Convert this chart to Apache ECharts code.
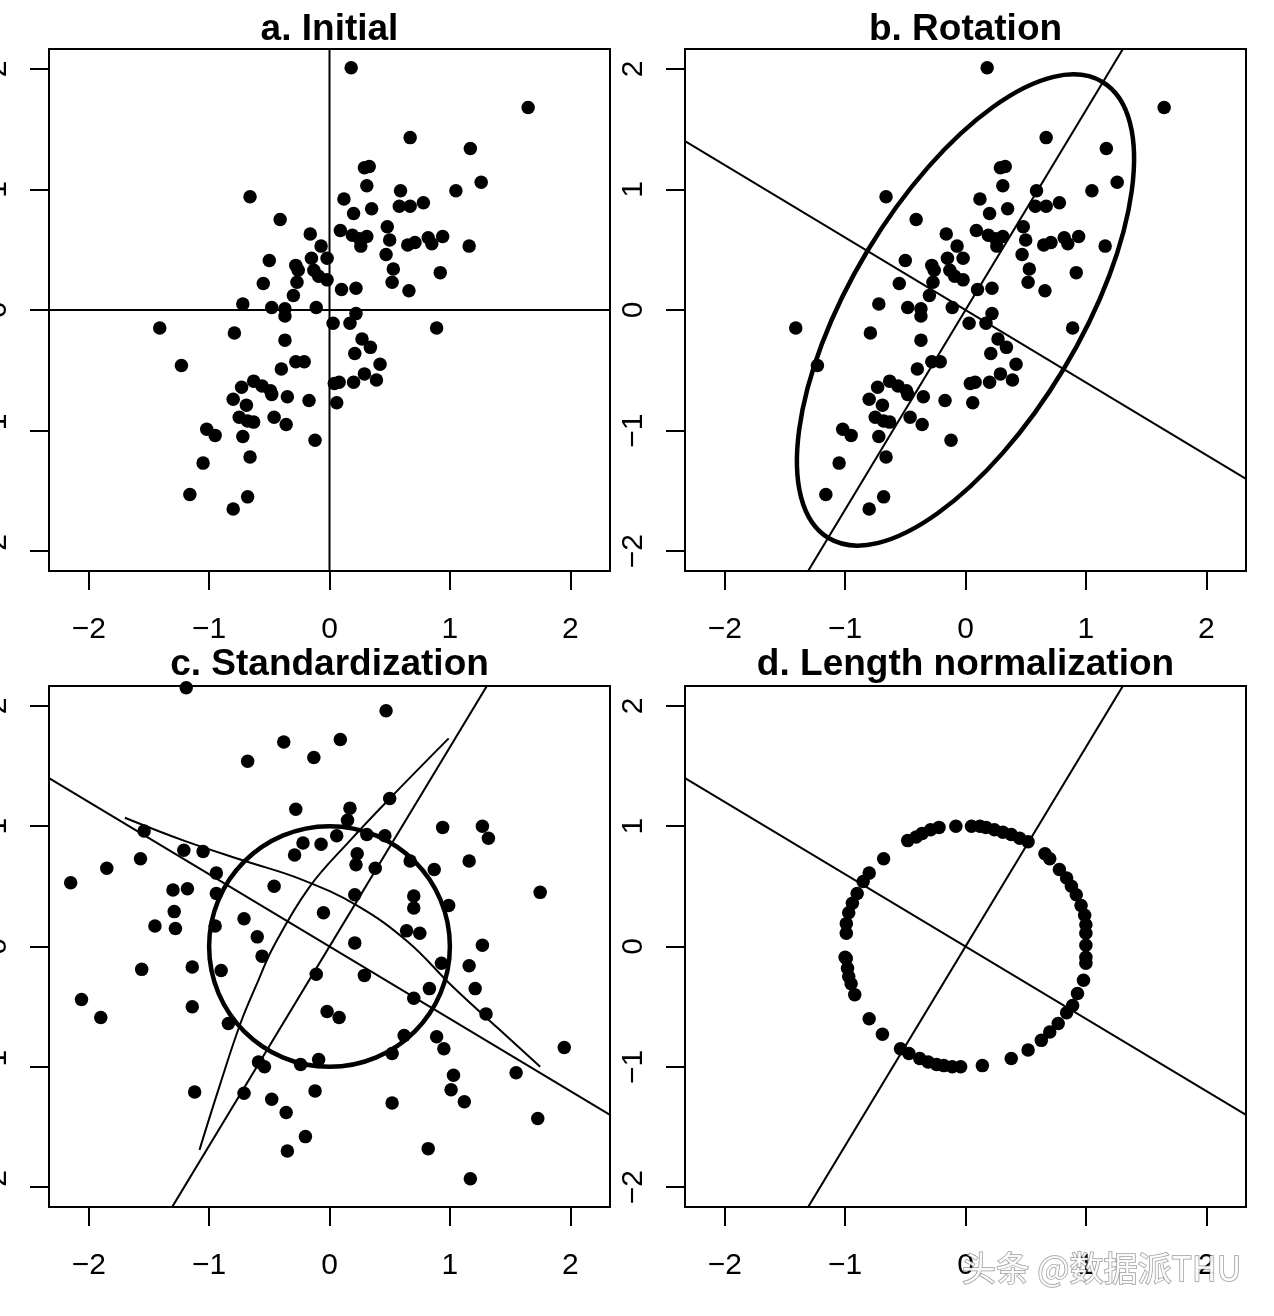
<!DOCTYPE html>
<html>
<head>
<meta charset="utf-8">
<script src="https://cdn.jsdelivr.net/npm/echarts@6/dist/echarts.min.js"></script>
<style>
  html, body { margin: 0; padding: 0; background: #fff; }
  #chart { width: 1274px; height: 1316px; }
</style>
</head>
<body>
<div id="chart"></div>
<script>
// panel titles and tick values
var panelTitles = ['a. Initial', 'b. Rotation', 'c. Standardization', 'd. Length normalization']
var tickValues = [-2, -1, 0, 1, 2]

// raw data (panels a and b)
var initialPoints = [
  [-0.66, 0.94], [-0.41, 0.75], [-0.16, 0.63], [-0.07, 0.53], [-0.50, 0.41], [-0.15, 0.43],
  [-0.02, 0.43], [-0.28, 0.37], [-0.26, 0.33], [-0.13, 0.33], [-0.09, 0.28], [-0.02, 0.25],
  [-0.27, 0.23], [-0.55, 0.22], [-0.30, 0.12], [-0.72, 0.05], [-0.48, 0.02], [-0.37, 0.01],
  [-0.11, 0.02], [-0.37, -0.05], [0.18, 2.01], [1.65, 1.68], [0.67, 1.43], [1.17, 1.34],
  [0.29, 1.18], [0.33, 1.19], [0.31, 1.03], [1.26, 1.06], [0.59, 0.99], [1.05, 0.99],
  [0.12, 0.92], [0.20, 0.80], [0.35, 0.84], [0.58, 0.86], [0.67, 0.86], [0.78, 0.89],
  [0.09, 0.66], [0.48, 0.69], [0.19, 0.62], [0.25, 0.59], [0.31, 0.61], [0.26, 0.53],
  [0.50, 0.58], [0.47, 0.46], [0.65, 0.54], [0.71, 0.56], [0.82, 0.60], [0.85, 0.55],
  [0.94, 0.61], [1.16, 0.53], [0.53, 0.34], [0.92, 0.31], [0.52, 0.23], [0.10, 0.17],
  [0.22, 0.18], [0.66, 0.16], [0.22, -0.03], [0.03, -0.11], [-1.41, -0.15], [-0.79, -0.19],
  [-0.37, -0.25], [-0.28, -0.43], [-0.21, -0.43], [-1.23, -0.46], [-0.40, -0.49], [0.04, -0.61],
  [0.06, -0.77], [-0.73, -0.64], [-0.63, -0.59], [-0.56, -0.63], [-0.49, -0.67], [-0.48, -0.70],
  [-0.35, -0.72], [-0.17, -0.75], [-0.80, -0.74], [-0.69, -0.79], [-0.46, -0.89], [-0.36, -0.95],
  [-0.75, -0.89], [-0.68, -0.92], [-0.63, -0.93], [-1.02, -0.99], [-0.95, -1.04], [-0.72, -1.05],
  [-0.12, -1.08], [-1.05, -1.27], [-0.66, -1.22], [-1.16, -1.53], [-0.68, -1.55], [-0.80, -1.65],
  [0.17, -0.11], [0.89, -0.15], [0.27, -0.24], [0.34, -0.31], [0.21, -0.36], [0.42, -0.45],
  [0.29, -0.53], [0.39, -0.58], [0.20, -0.60], [0.08, -0.60]
]

// standardized data (panel c)
var standardPoints = [
  [-0.68, 1.54], [-1.54, 0.96], [-1.21, 0.80], [-1.05, 0.79], [-1.57, 0.73], [-1.85, 0.65],
  [-0.94, 0.61], [-2.15, 0.53], [-1.30, 0.47], [-1.18, 0.48], [-0.94, 0.44], [-1.29, 0.29],
  [-1.45, 0.17], [-1.28, 0.15], [-0.95, 0.17], [-0.71, 0.23], [0.47, 1.96], [-0.38, 1.70],
  [0.09, 1.72], [-0.13, 1.57], [0.50, 1.23], [-0.28, 1.14], [0.17, 1.15], [0.15, 1.05],
  [0.94, 0.99], [0.06, 0.92], [0.31, 0.93], [0.46, 0.92], [-0.22, 0.86], [-0.07, 0.85],
  [-0.29, 0.76], [0.23, 0.77], [0.22, 0.68], [0.38, 0.65], [0.67, 0.71], [0.87, 0.64],
  [-0.46, 0.50], [0.21, 0.43], [0.70, 0.42], [0.70, 0.32], [0.99, 0.34], [-0.05, 0.28],
  [-0.60, 0.08], [0.64, 0.13], [0.75, 0.11], [0.21, 0.03], [1.27, 1.00], [1.32, 0.90],
  [1.16, 0.71], [1.75, 0.45], [1.27, 0.01], [1.16, -0.16], [1.21, -0.35], [-1.56, -0.19],
  [-1.14, -0.17], [-0.90, -0.20], [-2.06, -0.44], [-1.90, -0.59], [-1.14, -0.50], [-0.84, -0.64],
  [-1.12, -1.21], [-0.71, -1.22], [-0.56, -0.08], [-0.11, -0.23], [0.29, -0.24], [0.93, -0.14],
  [0.83, -0.35], [0.70, -0.43], [-0.02, -0.54], [0.08, -0.59], [0.62, -0.74], [0.52, -0.89],
  [0.89, -0.75], [0.95, -0.85], [-0.59, -0.96], [-0.54, -1.00], [-0.24, -0.98], [-0.09, -0.94],
  [-0.48, -1.27], [-0.12, -1.20], [-0.36, -1.38], [0.52, -1.30], [1.03, -1.07], [1.01, -1.19],
  [1.12, -1.29], [-0.20, -1.58], [-0.35, -1.70], [0.82, -1.68], [1.30, -0.56], [1.95, -0.84],
  [1.55, -1.05], [1.73, -1.43], [1.17, -1.93], [-1.19, 2.15]
]

// length-normalized data (panel d)
var normalizedPoints = [
  [-0.48, 0.88], [-0.41, 0.91], [-0.36, 0.94], [-0.29, 0.97], [-0.22, 0.99], [-0.08, 1.00],
  [0.05, 1.00], [0.12, 1.00], [0.17, 0.99], [0.24, 0.97], [0.31, 0.95], [0.38, 0.93],
  [0.45, 0.90], [0.52, 0.87], [-0.68, 0.73], [-0.80, 0.61], [-0.85, 0.54], [-0.90, 0.44],
  [-0.94, 0.36], [-0.97, 0.28], [-0.99, 0.19], [-0.99, 0.11], [-1.00, -0.09], [0.66, 0.77],
  [0.70, 0.73], [0.78, 0.64], [0.84, 0.57], [0.88, 0.50], [0.92, 0.43], [0.96, 0.34],
  [0.99, 0.26], [1.00, 0.18], [1.00, 0.11], [1.00, 0.01], [1.00, -0.09], [-0.99, -0.10],
  [-0.98, -0.18], [-0.97, -0.25], [-0.95, -0.31], [-0.92, -0.40], [-0.80, -0.60], [-0.69, -0.73],
  [-0.54, -0.85], [-0.47, -0.89], [-0.38, -0.93], [-0.31, -0.96], [-0.24, -0.98], [-0.18, -0.99],
  [-0.11, -1.00], [-0.04, -1.00], [0.14, -0.99], [0.38, -0.93], [0.52, -0.86], [0.63, -0.78],
  [0.70, -0.71], [0.77, -0.64], [0.84, -0.55], [0.89, -0.49], [0.93, -0.39], [0.98, -0.28],
  [1.00, -0.14]
]

// reference lines
var zeroHorizontal = [[-2.33, 0], [2.33, 0]]
var zeroVertical = [[0, -2.17], [0, 2.17]]
var majorAxisLine = [[-1.31, -2.17], [1.31, 2.17]]
var minorAxisLine = [[-2.33, 1.40], [2.33, -1.40]]
// [cx, cy, semi-major, semi-minor, angle in degrees]
var rotationEllipse = [[0, 0, 2.21, 0.95, 59]]
var unitCircle = [[0, 0, 1, 1, 0]]
// curved axes in panel c
var curveShallow = [
  [-1.70, 1.07], [-1.21, 0.88], [-0.70, 0.71], [-0.24, 0.56], [0.23, 0.34],
  [0.65, 0.04], [1.02, -0.33], [1.40, -0.68], [1.75, -1.00]
]
var curveSteep = [
  [-1.08, -1.69], [-0.91, -1.15], [-0.74, -0.64], [-0.59, -0.28], [-0.47, -0.01],
  [-0.17, 0.49], [0.17, 0.88], [0.51, 1.24], [0.99, 1.73]
]

var FONT = 'Liberation Sans'
var grids = [
  { left: 49, top: 49, width: 561, height: 522 },
  { left: 685, top: 49, width: 561, height: 522 },
  { left: 49, top: 686, width: 561, height: 521 },
  { left: 685, top: 686, width: 561, height: 521 }
]

var fmt = function(v) {
  return v < 0 ? '\u2212' + (-v) : String(v)
}

var buildXAxis = function(i) {
  return {
    gridIndex: i,
    type: 'value',
    min: -2.33,
    max: 2.33,
    axisLine: { show: false, onZero: false },
    splitLine: { show: false },
    axisTick: { show: true, inside: false, length: 19, customValues: tickValues, lineStyle: { color: '#000', width: 2 } },
    axisLabel: { customValues: tickValues, margin: 44, fontSize: 30, color: '#000', fontFamily: FONT, formatter: fmt }
  }
}

var buildYAxis = function(i) {
  return {
    gridIndex: i,
    type: 'value',
    min: -2.165,
    max: 2.165,
    axisLine: { show: false, onZero: false },
    splitLine: { show: false },
    axisTick: { show: true, inside: false, length: 19, customValues: tickValues, lineStyle: { color: '#000', width: 2 } },
    axisLabel: { customValues: tickValues, rotate: 90, margin: 36, fontSize: 30, color: '#000', fontFamily: FONT, formatter: fmt }
  }
}

var ellipseItem = function(params, api) {
  var c = api.coord([api.value(0), api.value(1)])
  var rx = api.size([api.value(2), 0])[0]
  var ry = api.size([0, api.value(3)])[1]
  return {
    type: 'ellipse',
    x: c[0],
    y: c[1],
    rotation: api.value(4) * Math.PI / 180,
    shape: { cx: 0, cy: 0, rx: rx, ry: ry },
    style: { fill: 'none', stroke: '#000', lineWidth: 4.5 }
  }
}

var scatter = function(i, data) {
  return {
    type: 'scatter', xAxisIndex: i, yAxisIndex: i, data: data,
    symbolSize: 13.5, itemStyle: { color: '#000', opacity: 1 }, z: 5
  }
}

var line = function(i, data, smooth) {
  return {
    type: 'line', xAxisIndex: i, yAxisIndex: i, data: data, smooth: smooth || false,
    symbol: 'none', lineStyle: { color: '#000', width: 2 }, z: 3
  }
}

var shape = function(i, data) {
  return {
    type: 'custom', xAxisIndex: i, yAxisIndex: i, data: data,
    encode: { x: 0, y: 1 }, renderItem: ellipseItem, z: 4
  }
}

var option = {
  animation: false,
  backgroundColor: '#fff',
  title: panelTitles.map(function(t, i) {
    return {
      text: t,
      left: grids[i].left + grids[i].width / 2,
      top: i < 2 ? 11 : 646,
      textAlign: 'center',
      padding: 0,
      textStyle: { fontSize: 37, fontWeight: 'bold', fontFamily: FONT, color: '#000' }
    }
  }),
  grid: grids.map(function(g) {
    return Object.assign({
      show: true, borderColor: '#000', borderWidth: 2, backgroundColor: 'transparent',
      containLabel: false, outerBoundsMode: 'none'
    }, g)
  }),
  xAxis: [0, 1, 2, 3].map(buildXAxis),
  yAxis: [0, 1, 2, 3].map(buildYAxis),
  graphic: [{
    type: 'text',
    left: 961,
    top: 1250,
    style: {
      text: '头条 @数据派THU',
      font: '34px "Noto Sans CJK SC"',
      fill: 'rgba(255,255,255,0.9)',
      stroke: 'rgba(90,90,90,0.6)',
      lineWidth: 1.5
    },
    z: 100
  }],
  series: [
    scatter(0, initialPoints),
    line(0, zeroHorizontal),
    line(0, zeroVertical),

    scatter(1, initialPoints),
    line(1, majorAxisLine),
    line(1, minorAxisLine),
    shape(1, rotationEllipse),

    scatter(2, standardPoints),
    line(2, majorAxisLine),
    line(2, minorAxisLine),
    line(2, curveShallow, 0.4),
    line(2, curveSteep, 0.4),
    shape(2, unitCircle),

    scatter(3, normalizedPoints),
    line(3, majorAxisLine),
    line(3, minorAxisLine)
  ]
}

var chart = echarts.init(document.getElementById('chart'))
chart.setOption(option)
</script>
</body>
</html>
